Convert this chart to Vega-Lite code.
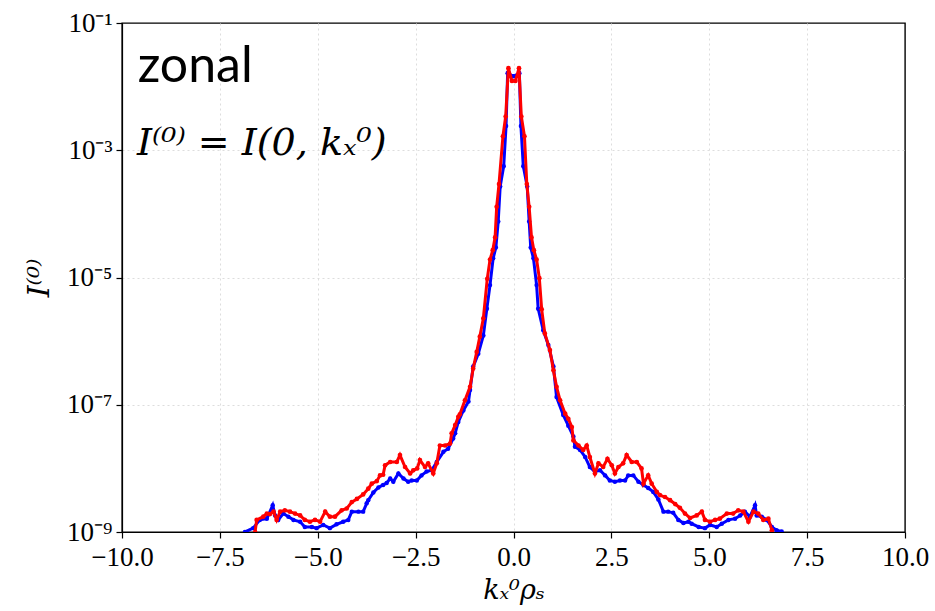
{
  "$schema": "https://vega.github.io/schema/vega-lite/v6.json",
  "width": 783,
  "height": 509,
  "autosize": {"type": "none"},
  "padding": {"left": 122, "top": 23, "right": 30, "bottom": 79},
  "background": "white",
  "config": {
    "view": {"stroke": "black", "strokeWidth": 1.4},
    "font": "Liberation Serif",
    "axisX": {
      "labelFont": "Liberation Serif", "labelFontSize": 27, "labelColor": "black", "labelPadding": 6,
      "labelFlush": false, "labelOverlap": false,
      "tickColor": "black", "tickSize": 6, "tickWidth": 1.2,
      "domainColor": "black", "domainWidth": 1.2,
      "titleFont": "DejaVu Serif", "titleFontStyle": "italic", "titleFontWeight": "normal",
      "titleFontSize": 27, "titleColor": "black", "titlePadding": 7
    },
    "axisY": {
      "labelFont": "Liberation Serif", "labelFontSize": 27, "labelColor": "black", "labelPadding": 4,
      "labelFlush": false, "labelOverlap": false,
      "tickColor": "black", "tickSize": 6, "tickWidth": 1.2,
      "domainColor": "black", "domainWidth": 1.2,
      "titleFont": "DejaVu Serif", "titleFontStyle": "italic", "titleFontWeight": "normal",
      "titleFontSize": 30, "titleColor": "black", "titlePadding": 12
    }
  },
  "datasets": {
    "blue": [
      {"k": -6.95, "I": 7.94e-10}, {"k": -6.86, "I": 1.0e-9}, {"k": -6.65, "I": 1.15e-9}, {"k": -6.48, "I": 1.55e-9},
      {"k": -6.30, "I": 1.62e-9}, {"k": -6.15, "I": 2.63e-9}, {"k": -6.09, "I": 1.82e-9}, {"k": -6.01, "I": 1.55e-9},
      {"k": -5.88, "I": 1.95e-9}, {"k": -5.75, "I": 1.74e-9}, {"k": -5.62, "I": 1.55e-9}, {"k": -5.45, "I": 1.45e-9},
      {"k": -5.33, "I": 1.20e-9}, {"k": -5.15, "I": 1.20e-9}, {"k": -5.03, "I": 1.15e-9}, {"k": -4.86, "I": 1.29e-9},
      {"k": -4.69, "I": 1.15e-9}, {"k": -4.52, "I": 1.32e-9}, {"k": -4.35, "I": 1.45e-9}, {"k": -4.22, "I": 1.55e-9},
      {"k": -4.13, "I": 2.09e-9}, {"k": -3.96, "I": 2.09e-9}, {"k": -3.84, "I": 2.09e-9}, {"k": -3.75, "I": 2.82e-9},
      {"k": -3.71, "I": 3.16e-9}, {"k": -3.58, "I": 4.17e-9}, {"k": -3.45, "I": 5.01e-9}, {"k": -3.33, "I": 5.50e-9},
      {"k": -3.24, "I": 5.89e-9}, {"k": -3.15, "I": 6.92e-9}, {"k": -3.07, "I": 6.17e-9}, {"k": -2.94, "I": 8.32e-9},
      {"k": -2.81, "I": 6.92e-9}, {"k": -2.69, "I": 6.17e-9}, {"k": -2.60, "I": 6.46e-9}, {"k": -2.47, "I": 6.46e-9},
      {"k": -2.35, "I": 7.76e-9}, {"k": -2.22, "I": 8.91e-9}, {"k": -2.09, "I": 9.33e-9}, {"k": -1.96, "I": 1.26e-8},
      {"k": -1.79, "I": 1.82e-8}, {"k": -1.67, "I": 2.04e-8}, {"k": -1.54, "I": 2.95e-8}, {"k": -1.49, "I": 3.55e-8},
      {"k": -1.41, "I": 5.37e-8}, {"k": -1.28, "I": 8.13e-8}, {"k": -1.15, "I": 1.12e-7}, {"k": -1.11, "I": 1.70e-7},
      {"k": -1.03, "I": 3.98e-7}, {"k": -0.90, "I": 6.31e-7}, {"k": -0.77, "I": 1.23e-6}, {"k": -0.68, "I": 3.24e-6},
      {"k": -0.60, "I": 7.59e-6}, {"k": -0.52, "I": 2.0e-5}, {"k": -0.45, "I": 2.95e-5}, {"k": -0.39, "I": 7.59e-5},
      {"k": -0.34, "I": 2.69e-4}, {"k": -0.25, "I": 5.62e-4}, {"k": -0.19, "I": 2.40e-3}, {"k": -0.15, "I": 1.62e-2},
      {"k": 0.0, "I": 1.45e-2},
      {"k": 0.15, "I": 1.62e-2}, {"k": 0.19, "I": 2.40e-3}, {"k": 0.25, "I": 5.62e-4}, {"k": 0.35, "I": 2.69e-4},
      {"k": 0.40, "I": 7.59e-5}, {"k": 0.44, "I": 2.95e-5}, {"k": 0.51, "I": 2.0e-5}, {"k": 0.59, "I": 7.59e-6},
      {"k": 0.63, "I": 3.24e-6}, {"k": 0.76, "I": 1.48e-6}, {"k": 0.89, "I": 8.71e-7}, {"k": 1.02, "I": 3.98e-7},
      {"k": 1.10, "I": 1.32e-7}, {"k": 1.27, "I": 6.92e-8}, {"k": 1.40, "I": 4.68e-8}, {"k": 1.53, "I": 3.16e-8},
      {"k": 1.57, "I": 2.19e-8}, {"k": 1.70, "I": 1.95e-8}, {"k": 1.83, "I": 1.51e-8}, {"k": 1.95, "I": 1.05e-8},
      {"k": 2.08, "I": 8.91e-9}, {"k": 2.21, "I": 9.33e-9}, {"k": 2.34, "I": 7.76e-9}, {"k": 2.46, "I": 6.46e-9},
      {"k": 2.59, "I": 6.17e-9}, {"k": 2.72, "I": 6.46e-9}, {"k": 2.85, "I": 6.46e-9}, {"k": 2.93, "I": 7.76e-9},
      {"k": 3.06, "I": 7.76e-9}, {"k": 3.19, "I": 6.17e-9}, {"k": 3.32, "I": 5.50e-9}, {"k": 3.44, "I": 4.90e-9},
      {"k": 3.57, "I": 4.27e-9}, {"k": 3.70, "I": 3.24e-9}, {"k": 3.83, "I": 2.09e-9}, {"k": 3.95, "I": 2.09e-9},
      {"k": 4.08, "I": 2.0e-9}, {"k": 4.21, "I": 1.55e-9}, {"k": 4.34, "I": 1.38e-9}, {"k": 4.47, "I": 1.45e-9},
      {"k": 4.55, "I": 1.35e-9}, {"k": 4.73, "I": 1.20e-9}, {"k": 4.89, "I": 1.15e-9}, {"k": 5.02, "I": 1.29e-9},
      {"k": 5.19, "I": 1.20e-9}, {"k": 5.32, "I": 1.35e-9}, {"k": 5.49, "I": 1.55e-9}, {"k": 5.66, "I": 1.62e-9},
      {"k": 5.79, "I": 1.82e-9}, {"k": 5.91, "I": 2.09e-9}, {"k": 6.04, "I": 1.74e-9}, {"k": 6.17, "I": 2.63e-9},
      {"k": 6.21, "I": 1.82e-9}, {"k": 6.34, "I": 1.74e-9}, {"k": 6.47, "I": 1.55e-9}, {"k": 6.60, "I": 1.20e-9},
      {"k": 6.72, "I": 1.07e-9}, {"k": 6.85, "I": 1.02e-9}, {"k": 6.95, "I": 7.94e-10}
    ],
    "red": [
      {"k": -6.70, "I": 6.31e-10}, {"k": -6.60, "I": 1.0e-9}, {"k": -6.56, "I": 1.55e-9}, {"k": -6.39, "I": 1.74e-9},
      {"k": -6.30, "I": 1.95e-9}, {"k": -6.22, "I": 1.91e-9}, {"k": -6.13, "I": 2.09e-9}, {"k": -6.05, "I": 1.55e-9},
      {"k": -5.96, "I": 2.09e-9}, {"k": -5.84, "I": 2.19e-9}, {"k": -5.71, "I": 2.09e-9}, {"k": -5.58, "I": 1.95e-9},
      {"k": -5.45, "I": 1.82e-9}, {"k": -5.33, "I": 1.55e-9}, {"k": -5.20, "I": 1.45e-9}, {"k": -5.07, "I": 1.55e-9},
      {"k": -4.94, "I": 1.45e-9}, {"k": -4.81, "I": 2.09e-9}, {"k": -4.69, "I": 1.74e-9}, {"k": -4.56, "I": 1.74e-9},
      {"k": -4.39, "I": 2.19e-9}, {"k": -4.26, "I": 2.34e-9}, {"k": -4.13, "I": 2.95e-9}, {"k": -4.00, "I": 3.31e-9},
      {"k": -3.84, "I": 3.89e-9}, {"k": -3.71, "I": 4.79e-9}, {"k": -3.62, "I": 5.75e-9}, {"k": -3.49, "I": 6.31e-9},
      {"k": -3.41, "I": 7.76e-9}, {"k": -3.33, "I": 7.94e-9}, {"k": -3.28, "I": 1.12e-8}, {"k": -3.15, "I": 1.26e-8},
      {"k": -2.98, "I": 1.26e-8}, {"k": -2.90, "I": 1.62e-8}, {"k": -2.77, "I": 1.05e-8}, {"k": -2.64, "I": 8.32e-9},
      {"k": -2.56, "I": 9.33e-9}, {"k": -2.46, "I": 1.0e-8}, {"k": -2.39, "I": 1.35e-8}, {"k": -2.26, "I": 1.05e-8},
      {"k": -2.18, "I": 1.20e-8}, {"k": -2.05, "I": 8.32e-9}, {"k": -1.96, "I": 1.20e-8}, {"k": -1.88, "I": 2.29e-8},
      {"k": -1.75, "I": 2.29e-8}, {"k": -1.62, "I": 2.45e-8}, {"k": -1.58, "I": 3.55e-8}, {"k": -1.49, "I": 4.79e-8},
      {"k": -1.41, "I": 6.46e-8}, {"k": -1.37, "I": 7.08e-8}, {"k": -1.24, "I": 1.175e-7}, {"k": -1.11, "I": 1.91e-7},
      {"k": -1.03, "I": 3.72e-7}, {"k": -0.94, "I": 6.76e-7}, {"k": -0.86, "I": 1.175e-6}, {"k": -0.77, "I": 2.29e-6},
      {"k": -0.67, "I": 9.55e-6}, {"k": -0.60, "I": 1.91e-5}, {"k": -0.53, "I": 2.69e-5}, {"k": -0.47, "I": 4.27e-5},
      {"k": -0.43, "I": 1.29e-4}, {"k": -0.37, "I": 2.95e-4}, {"k": -0.27, "I": 1.66e-3}, {"k": -0.20, "I": 3.39e-3},
      {"k": -0.13, "I": 1.95e-2}, {"k": -0.04, "I": 1.23e-2},
      {"k": 0.05, "I": 1.23e-2}, {"k": 0.14, "I": 1.95e-2}, {"k": 0.20, "I": 3.39e-3}, {"k": 0.28, "I": 1.66e-3},
      {"k": 0.34, "I": 2.95e-4}, {"k": 0.40, "I": 1.29e-4}, {"k": 0.46, "I": 4.27e-5}, {"k": 0.52, "I": 2.69e-5},
      {"k": 0.59, "I": 1.91e-5}, {"k": 0.66, "I": 9.77e-6}, {"k": 0.72, "I": 3.16e-6}, {"k": 0.80, "I": 1.32e-6},
      {"k": 0.93, "I": 7.24e-7}, {"k": 1.02, "I": 3.47e-7}, {"k": 1.10, "I": 1.91e-7}, {"k": 1.19, "I": 1.175e-7},
      {"k": 1.32, "I": 7.24e-8}, {"k": 1.40, "I": 6.03e-8}, {"k": 1.49, "I": 4.47e-8}, {"k": 1.53, "I": 2.75e-8},
      {"k": 1.66, "I": 2.29e-8}, {"k": 1.78, "I": 1.95e-8}, {"k": 1.87, "I": 2.29e-8}, {"k": 1.95, "I": 1.51e-8},
      {"k": 2.08, "I": 8.32e-9}, {"k": 2.17, "I": 1.20e-8}, {"k": 2.29, "I": 1.05e-8}, {"k": 2.40, "I": 1.41e-8},
      {"k": 2.51, "I": 1.12e-8}, {"k": 2.59, "I": 8.32e-9}, {"k": 2.68, "I": 1.05e-8}, {"k": 2.80, "I": 1.20e-8},
      {"k": 2.89, "I": 1.62e-8}, {"k": 3.02, "I": 1.26e-8}, {"k": 3.15, "I": 1.26e-8}, {"k": 3.27, "I": 1.0e-8},
      {"k": 3.32, "I": 5.75e-9}, {"k": 3.44, "I": 7.76e-9}, {"k": 3.53, "I": 5.75e-9}, {"k": 3.66, "I": 4.27e-9},
      {"k": 3.74, "I": 3.80e-9}, {"k": 3.87, "I": 3.55e-9}, {"k": 4.00, "I": 3.16e-9}, {"k": 4.13, "I": 2.75e-9},
      {"k": 4.25, "I": 2.40e-9}, {"k": 4.38, "I": 1.95e-9}, {"k": 4.51, "I": 1.66e-9}, {"k": 4.68, "I": 1.82e-9},
      {"k": 4.81, "I": 2.09e-9}, {"k": 4.89, "I": 1.55e-9}, {"k": 5.02, "I": 1.45e-9}, {"k": 5.15, "I": 1.55e-9},
      {"k": 5.27, "I": 1.62e-9}, {"k": 5.45, "I": 1.95e-9}, {"k": 5.61, "I": 1.95e-9}, {"k": 5.74, "I": 2.19e-9},
      {"k": 5.87, "I": 2.09e-9}, {"k": 6.00, "I": 1.45e-9}, {"k": 6.13, "I": 2.09e-9}, {"k": 6.25, "I": 1.95e-9},
      {"k": 6.38, "I": 1.55e-9}, {"k": 6.51, "I": 1.62e-9}, {"k": 6.60, "I": 1.07e-9}, {"k": 6.70, "I": 6.31e-10}
    ],
    "notes": [
      {"note": "zonal"}
    ]
  },
  "layer": [
    {
      "data": {"name": "blue"},
      "mark": {"type": "line", "color": "#0000ff", "strokeWidth": 3, "clip": true,
               "point": {"filled": true, "size": 20, "color": "#0000ff"}},
      "encoding": {
        "x": {
          "field": "k", "type": "quantitative",
          "scale": {"domain": [-10, 10], "nice": false, "zero": false},
          "axis": {
            "values": [-10, -7.5, -5, -2.5, 0, 2.5, 5, 7.5, 10],
            "format": ".1f",
            "title": "kₓ⁰ρₛ",
            "grid": true, "gridDash": [2, 3], "gridWidth": 1,
            "gridColor": {"condition": {"test": "abs(datum.value) > 9.9", "value": "transparent"}, "value": "#dddddd"}
          }
        },
        "y": {
          "field": "I", "type": "quantitative",
          "scale": {"type": "log", "domain": [1e-9, 0.1], "nice": false},
          "axis": {
            "values": [1e-9, 1e-7, 1e-5, 1e-3, 1e-1],
            "labelExpr": "datum.value >= 0.09 ? '10⁻¹' : datum.value >= 9e-4 ? '10⁻³' : datum.value >= 9e-6 ? '10⁻⁵' : datum.value >= 9e-8 ? '10⁻⁷' : '10⁻⁹'",
            "title": "I⁽⁰⁾",
            "grid": true, "gridDash": [2, 3], "gridWidth": 1,
            "gridColor": {"condition": {"test": "datum.value > 0.09 || datum.value < 1.1e-9", "value": "transparent"}, "value": "#dddddd"}
          }
        }
      }
    },
    {
      "data": {"name": "red"},
      "mark": {"type": "line", "color": "#ff0000", "strokeWidth": 3, "clip": true,
               "point": {"filled": true, "size": 22, "color": "#ff0000"}},
      "encoding": {
        "x": {"field": "k", "type": "quantitative"},
        "y": {"field": "I", "type": "quantitative"}
      }
    },
    {
      "data": {"name": "notes"},
      "mark": {"type": "text", "font": "Lato", "fontSize": 50, "align": "left", "baseline": "alphabetic", "color": "black"},
      "encoding": {
        "x": {"datum": -9.6},
        "y": {"datum": 0.0118},
        "text": {"value": "zonal"}
      }
    },
    {
      "data": {"name": "notes"},
      "mark": {"type": "text", "font": "DejaVu Serif", "fontStyle": "italic", "fontSize": 38, "align": "left", "baseline": "alphabetic", "color": "black"},
      "encoding": {
        "x": {"datum": -9.62},
        "y": {"datum": 0.00084},
        "text": {"value": "I⁽⁰⁾ = I(0, kₓ⁰)"}
      }
    }
  ]
}
